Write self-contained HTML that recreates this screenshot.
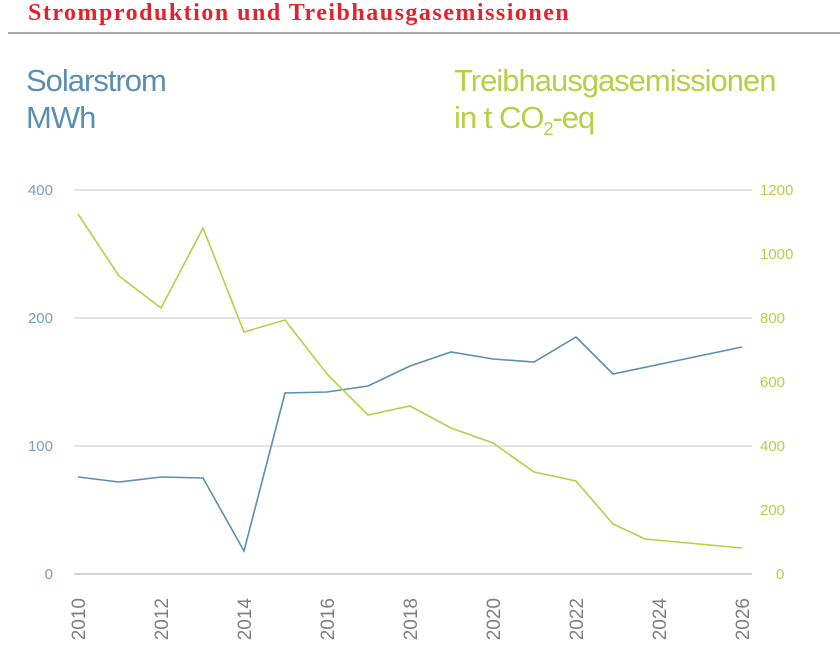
<!DOCTYPE html>
<html><head><meta charset="utf-8"><style>
body{margin:0;background:#fff;width:840px;height:649px;overflow:hidden;position:relative;font-family:"Liberation Sans",sans-serif}
.t{position:absolute;left:28px;top:0px;font-family:"Liberation Serif",serif;font-weight:bold;font-size:24px;letter-spacing:1.5px;color:#e2232f}
.rule{position:absolute;left:8px;right:0;top:32px;height:2px;background:#aaa}
.h{position:absolute;font-size:31px;line-height:37px;letter-spacing:-1px}
</style></head><body>
<div class="t">Stromproduktion und Treibhausgasemissionen</div>
<div class="rule"></div>
<div class="h" style="left:26px;top:62px;color:#5a8fb1">Solarstrom<br>MWh</div>
<div class="h" style="left:454px;top:62px;color:#b6cf47">Treibhausgasemissionen<br>in t CO<sub style="font-size:18px">2</sub>-eq</div>
<svg width="840" height="649" style="position:absolute;left:0;top:0" font-family="Liberation Sans, sans-serif">
<g stroke="#d4d4d4" stroke-width="1.2">
<line x1="74" y1="190" x2="752" y2="190"/><line x1="74" y1="318" x2="752" y2="318"/>
<line x1="74" y1="446" x2="752" y2="446"/><line x1="74" y1="574" x2="752" y2="574" stroke-width="2"/>
</g>
<g fill="#6fa0c0" font-size="15" text-anchor="end">
<text x="53" y="195">400</text><text x="53" y="323">200</text><text x="53" y="451">100</text><text x="53" y="579">0</text>
</g>
<g fill="#b6cf47" font-size="15">
<text x="760" y="195">1200</text><text x="760" y="259">1000</text><text x="760" y="323">800</text><text x="760" y="387">600</text><text x="760" y="451">400</text><text x="760" y="515">200</text><text x="776" y="579">0</text>
</g>
<g fill="#808080" font-size="19" text-anchor="end">
<text transform="translate(85,598) rotate(-90)">2010</text>
<text transform="translate(168,598) rotate(-90)">2012</text>
<text transform="translate(251,598) rotate(-90)">2014</text>
<text transform="translate(334,598) rotate(-90)">2016</text>
<text transform="translate(417,598) rotate(-90)">2018</text>
<text transform="translate(500,598) rotate(-90)">2020</text>
<text transform="translate(583,598) rotate(-90)">2022</text>
<text transform="translate(666,598) rotate(-90)">2024</text>
<text transform="translate(749,598) rotate(-90)">2026</text>
</g>
<polyline fill="none" stroke="#5a8fb1" stroke-width="1.6" points="78,477 119,482 161,477 203,478 244,551 285,393 327,392 368,386 410,366 451,352 493,359 534,362 576,337 613,374 742,347"/>
<polyline fill="none" stroke="#b6cf47" stroke-width="1.6" points="78,214 119,276 161,308 203,228 244,332 285,320 327,374 368,415 410,406 451,428 493,443 534,472 576,481 613,524 645,539 742,548"/>
</svg>
</body></html>
